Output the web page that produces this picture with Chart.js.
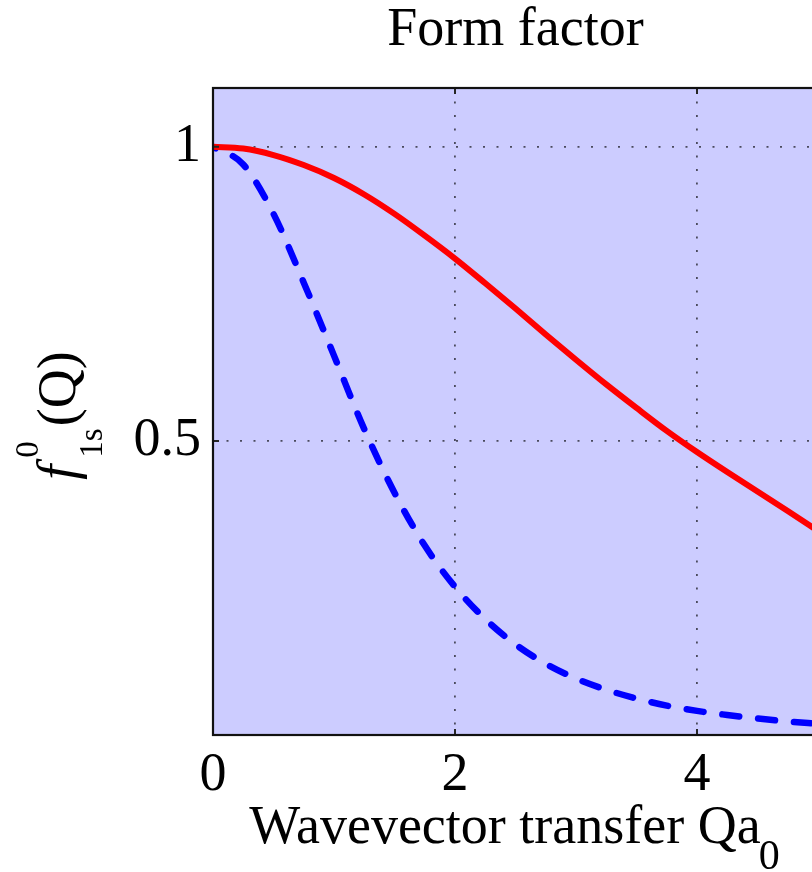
<!DOCTYPE html>
<html>
<head>
<meta charset="utf-8">
<script src="https://cdn.jsdelivr.net/npm/chart.js@4.4.1/dist/chart.umd.min.js"></script>
<style>
  html, body { margin: 0; padding: 0; background: #fff; overflow: hidden; }
  canvas { display: block; }
</style>
</head>
<body>
<canvas id="ff" width="830" height="872"></canvas>
<script>
// ===== FORM FACTOR CHART =====
const qValues = [0, 0.25, 0.5, 0.75, 1, 1.25, 1.5, 1.75, 2, 2.25, 2.5, 2.75, 3, 3.25, 3.5, 3.75, 4, 4.25, 4.5, 4.75, 5];
const redValues = [1.000, 0.997, 0.986, 0.969, 0.947, 0.919, 0.886, 0.849, 0.810, 0.768, 0.725, 0.681, 0.638, 0.596, 0.556, 0.517, 0.481, 0.447, 0.414, 0.381, 0.347];
const blueValues = [1.000, 0.970, 0.886, 0.769, 0.645, 0.520, 0.412, 0.322, 0.252, 0.197, 0.154, 0.121, 0.096, 0.077, 0.062, 0.050, 0.041, 0.034, 0.028, 0.023, 0.019];
const xTicks = [0, 2, 4];
const yTicks = [0.5, 1];

const SERIF = '"Liberation Serif", "Times New Roman", serif';
const FONT_SIZE = 54;

function toPoints(ys) {
  return qValues.map((q, i) => ({ x: q, y: ys[i] }));
}

const frame = {
  id: 'frame',
  beforeDraw(chart) {
    const { ctx, chartArea: { left, top, width, height } } = chart;
    ctx.save();
    ctx.fillStyle = '#ccccff';
    ctx.fillRect(left, top, width, height);
    ctx.restore();
  },
  afterDatasetsDraw(chart) {
    const { ctx, chartArea: a, scales: { x, y } } = chart;
    ctx.save();
    // inward tick marks
    ctx.strokeStyle = '#262626';
    ctx.lineWidth = 2;
    ctx.beginPath();
    xTicks.forEach(v => {
      const px = x.getPixelForValue(v);
      ctx.moveTo(px, a.bottom); ctx.lineTo(px, a.bottom - 6);
      ctx.moveTo(px, a.top); ctx.lineTo(px, a.top + 6);
    });
    yTicks.forEach(v => {
      const py = y.getPixelForValue(v);
      ctx.moveTo(a.left, py); ctx.lineTo(a.left + 6, py);
      ctx.moveTo(a.right, py); ctx.lineTo(a.right - 6, py);
    });
    ctx.stroke();
    // box
    ctx.strokeStyle = '#111';
    ctx.lineWidth = 2.2;
    ctx.strokeRect(a.left, a.top, a.right - a.left, a.bottom - a.top);
    ctx.restore();
  },
  afterDraw(chart) {
    const { ctx, chartArea: a } = chart;
    const cx = (a.left + a.right) / 2;
    ctx.save();
    ctx.fillStyle = '#000';
    ctx.textBaseline = 'alphabetic';

    // title
    ctx.font = `${FONT_SIZE}px ${SERIF}`;
    ctx.textAlign = 'center';
    ctx.fillText('Form factor', cx, 45);

    // x label with subscript
    ctx.textAlign = 'left';
    const main = 'Wavevector transfer Qa';
    ctx.font = `${FONT_SIZE}px ${SERIF}`;
    const wMain = ctx.measureText(main).width;
    ctx.font = `42px ${SERIF}`;
    const wSub = ctx.measureText('0').width;
    const x0 = cx - (wMain + wSub) / 2;
    ctx.font = `${FONT_SIZE}px ${SERIF}`;
    ctx.fillText(main, x0, 843);
    ctx.font = `42px ${SERIF}`;
    ctx.fillText('0', x0 + wMain - 2, 869);

    // y label: f^0_1s(Q), rotated
    ctx.translate(75, (a.top + a.bottom) / 2 + 4);
    ctx.rotate(-Math.PI / 2);
    ctx.font = `italic ${FONT_SIZE}px ${SERIF}`;
    const wf = ctx.measureText('f').width;
    ctx.font = `33px ${SERIF}`;
    const wScript = Math.max(ctx.measureText('1s').width, ctx.measureText('0').width);
    ctx.font = `${FONT_SIZE}px ${SERIF}`;
    const wQ = ctx.measureText('(Q)').width;
    const gap = 7;
    const total = wf + gap + wScript + 2 + wQ;
    let u = -total / 2;
    ctx.font = `italic ${FONT_SIZE}px ${SERIF}`;
    ctx.fillText('f', u, 0);
    u += wf + gap;
    ctx.font = `33px ${SERIF}`;
    ctx.fillText('0', u, -37);
    ctx.fillText('1s', u, 27);
    u += wScript + 2;
    ctx.font = `${FONT_SIZE}px ${SERIF}`;
    ctx.fillText('(Q)', u, 0);
    ctx.restore();
  },
};

new Chart(document.getElementById('ff').getContext('2d'), {
  type: 'line',
  data: {
    datasets: [
      {
        label: 'solid',
        data: toPoints(redValues),
        borderColor: '#ff0000',
        borderWidth: 6,
        pointRadius: 0,
        cubicInterpolationMode: 'monotone',
        borderCapStyle: 'butt',
        fill: false,
      },
      {
        label: 'dashed',
        data: toPoints(blueValues),
        borderColor: '#0000ff',
        borderWidth: 6.5,
        borderDash: [17, 19],
        borderDashOffset: 14,
        borderCapStyle: 'round',
        borderJoinStyle: 'round',
        pointRadius: 0,
        cubicInterpolationMode: 'monotone',
        fill: false,
      },
    ],
  },
  options: {
    responsive: false,
    devicePixelRatio: 1,
    animation: false,
    layout: { padding: { top: 88, right: 12, left: 0, bottom: 0 } },
    plugins: { legend: { display: false }, tooltip: { enabled: false }, title: { display: false } },
    scales: {
      x: {
        type: 'linear',
        min: 0,
        max: 5,
        afterBuildTicks: scale => { scale.ticks = xTicks.map(v => ({ value: v })); },
        afterFit: scale => { scale.height = 137; },
        ticks: { color: '#000', padding: 8, maxRotation: 0, callback: v => String(v), font: { family: SERIF, size: FONT_SIZE } },
        grid: { color: 'rgba(60,60,75,0.9)', lineWidth: 1.8, drawTicks: false },
        border: { display: false, dash: [2, 11.5] },
      },
      y: {
        type: 'linear',
        min: 0,
        max: 1.1,
        afterBuildTicks: scale => { scale.ticks = yTicks.map(v => ({ value: v })); },
        afterFit: scale => { scale.width = 213; },
        ticks: { color: '#000', padding: 12, callback: v => String(v), font: { family: SERIF, size: FONT_SIZE } },
        grid: { color: 'rgba(60,60,75,0.9)', lineWidth: 1.8, drawTicks: false },
        border: { display: false, dash: [2, 11.5] },
      },
    },
  },
  plugins: [frame],
});
</script>
</body>
</html>
